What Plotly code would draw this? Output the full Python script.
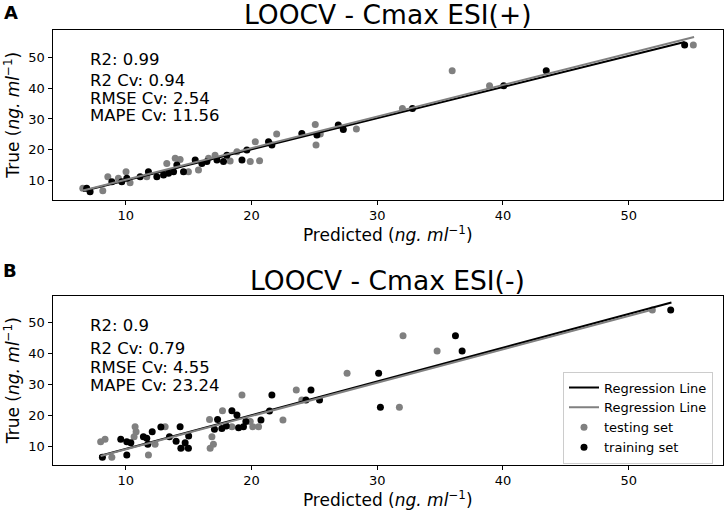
#!/usr/bin/env python3
"""
LOOCV scatter plots for Cmax, ESI(+) and ESI(-).
Predicted vs true values, testing/training sets and regression lines.
"""
import plotly.graph_objs as go

# Panel A - ESI(+)
test_pred_a = [6.58, 8.17, 8.57, 9.41, 10.02, 10.34, 11.67, 13.26, 13.93, 14.32, 14.98,
               15.78, 16.58, 17.1, 18.3, 18.84, 19.9, 20.64, 20.3, 22.0, 25.07, 25.13,
               25.47, 28.34, 32.0, 35.96, 38.93, 55.14]
test_true_a = [7.39, 6.6, 11.17, 10.65, 12.8, 9.2, 11.17, 15.5, 17.2, 16.8, 12.8,
               13.35, 17.2, 18.2, 16.3, 19.3, 16.1, 16.4, 22.6, 25.1, 28.2, 21.5,
               25.1, 26.7, 33.45, 45.7, 40.8, 54.07]
train_pred_a = [6.89, 7.16, 8.89, 9.68, 10.08, 11.14, 11.8, 12.47, 13.0, 13.4, 13.8,
                14.06, 14.59, 15.52, 16.05, 16.45, 17.25, 17.77, 18.04, 19.24, 19.63,
                21.35, 21.62, 24.0, 25.2, 26.9, 27.3, 32.8, 40.06, 43.44, 54.45]
train_true_a = [7.39, 6.29, 9.54, 9.54, 10.65, 11.17, 12.8, 11.17, 11.7, 12.3, 12.8,
                15.0, 12.8, 16.6, 15.5, 16.1, 16.6, 16.1, 18.2, 16.6, 19.9,
                22.6, 21.5, 25.3, 24.75, 28.0, 26.6, 33.45, 40.8, 45.7, 54.07]
reg_train_x_a = [6.6, 54.45]
reg_train_y_a = [6.5, 55.1]
reg_test_x_a = [6.6, 55.2]
reg_test_y_a = [6.7, 56.7]
stats_a = ["R2: 0.99", "R2 Cv: 0.94", "RMSE Cv: 2.54", "MAPE Cv: 11.56"]

# Panel B - ESI(-)
test_pred_b = [8.0, 8.35, 8.89, 10.74, 10.82, 10.66, 11.8, 12.33, 13.13, 14.72, 16.66,
               16.85, 16.71, 16.97, 17.69, 18.44, 19.24, 19.9, 20.1, 20.56, 22.5,
               23.56, 24.0, 27.6, 31.76, 32.05, 34.76, 51.88]
test_true_b = [11.6, 12.4, 6.58, 16.45, 14.8, 13.2, 7.3, 10.8, 16.45, 10.0, 18.8,
               13.2, 9.5, 10.8, 21.6, 16.45, 26.7, 18.1, 16.45, 16.45, 18.6,
               28.3, 25.1, 33.7, 22.7, 45.8, 40.9, 54.1]
train_pred_b = [8.14, 9.6, 10.08, 10.4, 10.08, 11.4, 11.67, 11.75, 12.1, 12.79, 13.47,
                14.0, 14.32, 14.38, 14.72, 15.0, 14.98, 17.05, 17.3, 17.64, 17.99,
                18.44, 18.84, 18.97, 19.36, 19.55, 20.75, 21.43, 21.62, 24.33, 24.73,
                25.41, 30.11, 30.25, 36.22, 36.75, 53.34]
train_true_b = [6.58, 12.4, 11.6, 11.3, 7.3, 13.2, 12.7, 10.8, 14.8, 16.35, 13.2,
                11.8, 16.45, 9.5, 11.3, 13.45, 9.5, 15.6, 18.8, 15.9, 16.7,
                21.6, 20.2, 16.1, 16.45, 18.1, 18.6, 21.5, 26.7, 25.1, 28.3,
                25.1, 33.7, 22.7, 45.8, 40.9, 54.1]
reg_train_x_b = [7.9, 53.4]
reg_train_y_b = [7.0, 56.5]
reg_test_x_b = [8.0, 52.0]
reg_test_y_b = [7.0, 54.3]
stats_b = ["R2: 0.9", "R2 Cv: 0.79", "RMSE Cv: 4.55", "MAPE Cv: 23.24"]

FONT = "DejaVu Sans"
GREY = "#808080"
W, H = 726, 514


def px_x(p):
    return p / W


def px_y(p):
    return 1 - p / H


def add_panel(fig, xref, yref, pred_test, true_test, pred_train, true_train,
              lx_train, ly_train, lx_test, ly_test, legend):
    """Scatter points and regression lines for one panel."""
    fig.add_trace(go.Scatter(
        x=pred_test, y=true_test, mode='markers', name='testing set',
        marker=dict(color=GREY, size=7), xaxis=xref, yaxis=yref,
        showlegend=legend, legendrank=3
    ))
    fig.add_trace(go.Scatter(
        x=pred_train, y=true_train, mode='markers', name='training set',
        marker=dict(color='black', size=7), xaxis=xref, yaxis=yref,
        showlegend=legend, legendrank=4
    ))
    fig.add_trace(go.Scatter(
        x=lx_train, y=ly_train, mode='lines', name='Regression Line',
        line=dict(color='black', width=2), xaxis=xref, yaxis=yref,
        showlegend=legend, legendrank=1
    ))
    fig.add_trace(go.Scatter(
        x=lx_test, y=ly_test, mode='lines', name='Regression Line',
        line=dict(color=GREY, width=2), xaxis=xref, yaxis=yref,
        showlegend=legend, legendrank=2
    ))


fig = go.Figure()
add_panel(fig, 'x', 'y', test_pred_a, test_true_a, train_pred_a, train_true_a,
          reg_train_x_a, reg_train_y_a, reg_test_x_a, reg_test_y_a, False)
add_panel(fig, 'x2', 'y2', test_pred_b, test_true_b, train_pred_b, train_true_b,
          reg_train_x_b, reg_train_y_b, reg_test_x_b, reg_test_y_b, True)

unit = "(<i>ng. ml</i><sup>\u22121</sup>)"
axis_common = dict(
    showline=True, mirror=True, linecolor='black', linewidth=1,
    ticks='outside', ticklen=4, tickwidth=1, tickcolor='black',
    showgrid=False, zeroline=False, tick0=10, dtick=10,
    tickfont=dict(size=13, color='black'),
)
xdom = [px_x(52.5), px_x(723)]
xtitle = dict(text="Predicted " + unit, font=dict(size=17), standoff=4)
ytitle = dict(text="True " + unit, font=dict(size=17), standoff=4)
fig.update_layout(
    width=W, height=H, autosize=False,
    margin=dict(l=0, r=0, t=0, b=0),
    paper_bgcolor='white', plot_bgcolor='white',
    font=dict(family=FONT, color='black'),
    xaxis=dict(domain=xdom, range=[4.17, 57.5], anchor='y', title=xtitle, **axis_common),
    yaxis=dict(domain=[px_y(199.5), px_y(30)], range=[3.75, 59.0], anchor='x',
               title=ytitle, **axis_common),
    xaxis2=dict(domain=xdom, range=[4.17, 57.5], anchor='y2', title=xtitle, **axis_common),
    yaxis2=dict(domain=[px_y(464.7), px_y(295.7)], range=[4.2, 58.7], anchor='x2',
                title=ytitle, **axis_common),
    legend=dict(x=px_x(563), xanchor='left', y=px_y(371.5), yanchor='top',
                bgcolor='rgba(255,255,255,0.8)', bordercolor='#cccccc', borderwidth=1,
                font=dict(size=13), tracegroupgap=0),
)

# titles and panel letters
notes = [
    dict(text="LOOCV - Cmax ESI(+)", x=px_x(387.75), y=px_y(14.5), size=26.5),
    dict(text="LOOCV - Cmax ESI(-)", x=px_x(387.75), y=px_y(280.2), size=26.5),
    dict(text="<b>A</b>", x=px_x(10.5), y=px_y(12.5), size=18),
    dict(text="<b>B</b>", x=px_x(9.5), y=px_y(270.5), size=18),
]
for n in notes:
    fig.add_annotation(text=n['text'], x=n['x'], y=n['y'], xref='paper', yref='paper',
                       xanchor='center', yanchor='middle', showarrow=False,
                       font=dict(size=n['size'], family=FONT, color='black'))

# stats text, one line per annotation
for stats, rows in [(stats_a, [59, 80, 98, 116]), (stats_b, [325, 348, 367, 385])]:
    for line, row in zip(stats, rows):
        fig.add_annotation(text=line, x=px_x(88), y=px_y(row), xref='paper',
                           yref='paper', xanchor='left', yanchor='middle',
                           showarrow=False,
                           font=dict(size=16.5, family=FONT, color='black'))

fig.write_html("out.html", config={'displayModeBar': False},
               post_script="document.body.style.margin='0px';")
